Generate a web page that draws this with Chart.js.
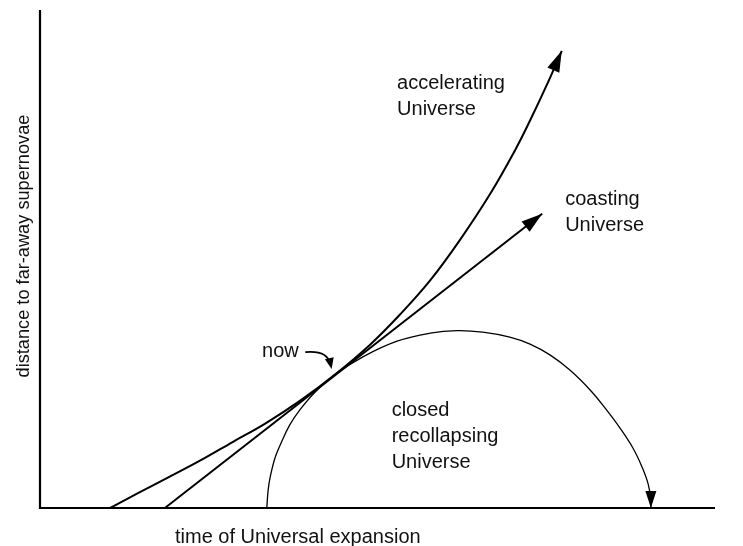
<!DOCTYPE html>
<html><head><meta charset="utf-8">
<script src="https://cdn.jsdelivr.net/npm/chart.js@4/dist/chart.umd.min.js"></script>
<style>html,body{margin:0;padding:0;background:#fff}#wrap{width:743px;height:546px;position:relative}</style>
</head><body><div id="wrap"><canvas id="c" width="743" height="546"></canvas></div>
<script>
// ---- data (arbitrary units: time 0..100, distance 0..100) ----
const xTitle = "time of Universal expansion";
const yTitle = "distance to far-away supernovae";

const acceleratingX = [10.4, 14.8, 18.8, 23.7, 28.6, 33.3, 38.5, 43.7, 48.9, 53.3, 57.8, 62.2, 66.7, 70.4, 72.6, 75.1, 77.3];
const acceleratingY = [0.0, 3.2, 6.0, 9.5, 13.3, 16.9, 21.5, 26.8, 32.8, 38.8, 45.7, 53.8, 63.1, 71.9, 77.8, 85.0, 91.8];

const coastingX = [18.5, 74.4];
const coastingY = [0.0, 59.1];

const closedX = [33.6, 33.8, 34.1, 34.8, 35.6, 37.0, 38.5, 40.7, 43.7, 47.9, 52.9, 57.8, 61.8, 65.6, 69.6, 72.6, 75.6, 78.5, 81.5, 83.7, 85.9, 87.9, 89.2, 90.1, 90.5, 90.5];
const closedY = [0.0, 3.6, 6.2, 10.0, 12.7, 16.7, 19.7, 23.2, 26.8, 30.4, 33.5, 35.1, 35.6, 35.3, 34.3, 32.9, 30.7, 27.7, 23.7, 20.1, 16.1, 11.9, 8.2, 4.8, 1.6, 0.0];

const acceleratingLabel = ["accelerating", "Universe"];
const coastingLabel = ["coasting", "Universe"];
const closedLabel = ["closed", "recollapsing", "Universe"];
const nowLabel = "now";

// ---- presentation ----
const FONT = '"Liberation Sans", Arial, Helvetica, sans-serif';
const labelPlacement = [
  {lines: acceleratingLabel, x: 52.9, y: 84.1},
  {lines: coastingLabel, x: 77.8, y: 60.8},
  {lines: closedLabel, x: 52.1, y: 18.5},
  {lines: [nowLabel], x: 32.9, y: 30.3}
];
const nowArrow = {from: [39.3, 31.3], ctrl: [42.6, 31.7], to: [43.2, 27.9]};

function pts(xs, ys){ return xs.map((x,i)=>({x:x, y:ys[i]})); }

function drawHead(ctx, tx, ty, fx, fy, len, w){
  const a = Math.atan2(ty-fy, tx-fx);
  ctx.save();
  ctx.translate(tx, ty); ctx.rotate(a);
  ctx.beginPath();
  ctx.moveTo(0,0); ctx.lineTo(-len, w/2); ctx.lineTo(-len, -w/2); ctx.closePath();
  ctx.fillStyle = '#000'; ctx.fill();
  ctx.restore();
}

const decor = {
  id: 'decor',
  afterDatasetsDraw(chart){
    const ctx = chart.ctx, xs = chart.scales.x, ys = chart.scales.y;
    const ca = chart.chartArea;
    ctx.save();
    // axes
    ctx.strokeStyle = '#000'; ctx.lineWidth = 2.2; ctx.lineCap = 'butt';
    ctx.beginPath();
    ctx.moveTo(xs.getPixelForValue(0), ys.getPixelForValue(100));
    ctx.lineTo(xs.getPixelForValue(0), ys.getPixelForValue(0));
    ctx.lineTo(xs.getPixelForValue(100), ys.getPixelForValue(0));
    ctx.stroke();
    // arrowheads
    chart.data.datasets.forEach((ds, i) => {
      if (!ds.arrow) return;
      const meta = chart.getDatasetMeta(i);
      const n = meta.data.length;
      const p = meta.data[n-1];
      let fx = p.cp1x, fy = p.cp1y;
      if (fx === undefined || (Math.abs(fx-p.x) < 0.5 && Math.abs(fy-p.y) < 0.5)) { fx = meta.data[n-2].x; fy = meta.data[n-2].y; }
      drawHead(ctx, p.x, p.y, fx, fy, ds.arrow.len, ds.arrow.w);
    });
    // "now" arrow
    const f = [xs.getPixelForValue(nowArrow.from[0]), ys.getPixelForValue(nowArrow.from[1])];
    const c = [xs.getPixelForValue(nowArrow.ctrl[0]), ys.getPixelForValue(nowArrow.ctrl[1])];
    const t = [xs.getPixelForValue(nowArrow.to[0]), ys.getPixelForValue(nowArrow.to[1])];
    ctx.lineWidth = 1.7;
    ctx.beginPath(); ctx.moveTo(f[0], f[1]); ctx.quadraticCurveTo(c[0], c[1], t[0]-1.5, t[1]-5); ctx.stroke();
    drawHead(ctx, t[0], t[1], c[0], c[1], 11, 9);
    // labels
    ctx.fillStyle = '#111';
    ctx.font = '20px ' + FONT;
    ctx.textAlign = 'left'; ctx.textBaseline = 'alphabetic';
    labelPlacement.forEach(l => {
      const px = xs.getPixelForValue(l.x), py = ys.getPixelForValue(l.y);
      l.lines.forEach((s, k) => ctx.fillText(s, px, py + k*26));
    });
    // axis titles
    ctx.fillText(xTitle, 175, 543);
    ctx.save();
    ctx.translate(29, (ca.top + ca.bottom)/2 - 13);
    ctx.rotate(-Math.PI/2);
    ctx.textAlign = 'center';
    ctx.font = '18.2px ' + FONT;
    ctx.fillText(yTitle, 0, 0);
    ctx.restore();
    ctx.restore();
  }
};

new Chart(document.getElementById('c'), {
  type: 'scatter',
  data: {
    datasets: [
      {label: 'accelerating Universe', data: pts(acceleratingX, acceleratingY), showLine: true, borderColor: '#000', borderWidth: 2, pointRadius: 0, tension: 0.4, clip: false, arrow: {len: 21, w: 13}},
      {label: 'coasting Universe', data: pts(coastingX, coastingY), showLine: true, borderColor: '#000', borderWidth: 2, pointRadius: 0, tension: 0, clip: false, arrow: {len: 21, w: 13}},
      {label: 'closed recollapsing Universe', data: pts(closedX, closedY), showLine: true, borderColor: '#000', borderWidth: 1.3, pointRadius: 0, tension: 0.4, clip: false, arrow: {len: 17, w: 11}}
    ]
  },
  options: {
    responsive: false, animation: false, devicePixelRatio: 1,
    layout: {padding: {left: 40, right: 28, top: 10, bottom: 38}},
    plugins: {legend: {display: false}, tooltip: {enabled: false}},
    scales: {
      x: {type: 'linear', min: 0, max: 100, display: false},
      y: {type: 'linear', min: 0, max: 100, display: false}
    }
  },
  plugins: [decor]
});
</script>
</body></html>
